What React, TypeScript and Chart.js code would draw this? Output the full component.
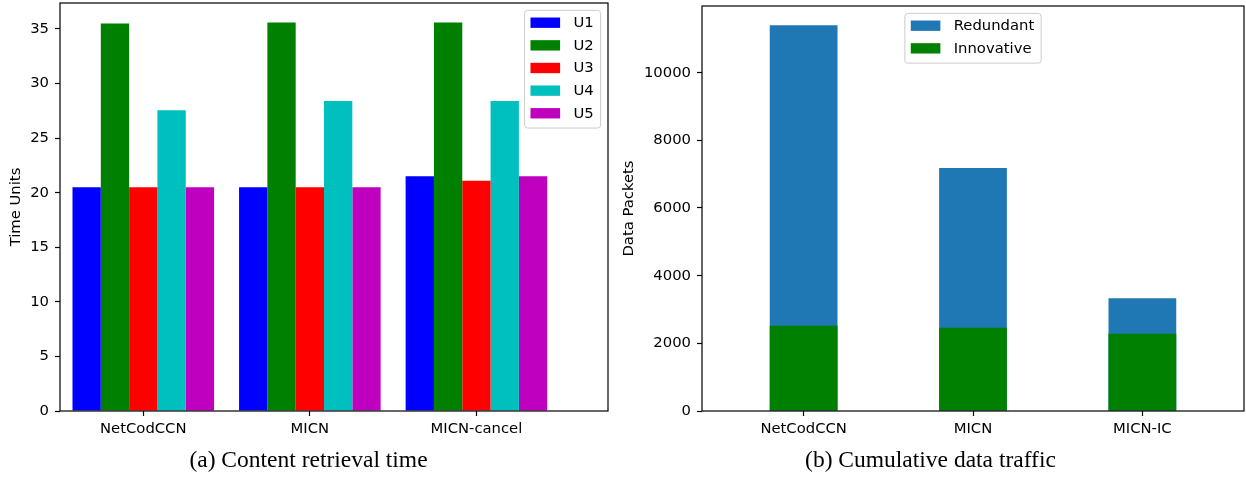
import React, { useEffect, useRef } from 'react';
import { Chart, registerables } from 'chart.js';

Chart.register(...registerables);
Chart.defaults.font.family = '"DejaVu Sans", sans-serif';
Chart.defaults.color = '#000';

// ---------- Data: (a) Content retrieval time ----------
const categoriesA = ['NetCodCCN', 'MICN', 'MICN-cancel'];
const seriesNamesA = ['U1', 'U2', 'U3', 'U4', 'U5'];
const u1 = [20.5, 20.5, 21.5];
const u2 = [35.5, 35.6, 35.6];
const u3 = [20.5, 20.5, 21.1];
const u4 = [27.55, 28.4, 28.4];
const u5 = [20.5, 20.5, 21.5];
const seriesValuesA = [u1, u2, u3, u4, u5];
const seriesColorsA = ['#0000ff', '#008000', '#ff0000', '#00bfbf', '#bf00bf'];
const yTicksA = [0, 5, 10, 15, 20, 25, 30, 35];

// ---------- Data: (b) Cumulative data traffic ----------
const categoriesB = ['NetCodCCN', 'MICN', 'MICN-IC'];
const redundantTotal = [11400, 7180, 3335];
const innovative = [2520, 2460, 2285];
const seriesColorsB = ['#1f77b4', '#008000'];
const yTicksB = [0, 2000, 4000, 6000, 8000, 10000];

const FS = 14.8;

const framePlugin = {
  id: 'frame',
  afterDatasetsDraw(chart: any) {
    const { ctx, chartArea: a } = chart;
    ctx.save();
    ctx.strokeStyle = '#000';
    ctx.lineWidth = 1.2;
    ctx.strokeRect(a.left, a.top, a.right - a.left, a.bottom - a.top);
    ctx.restore();
  },
};

const boxLegendPlugin = {
  id: 'boxLegend',
  afterDraw(chart: any, _args: any, opts: any) {
    if (!opts || !opts.display) return;
    const { ctx, chartArea: a } = chart;
    const fs = opts.fontSize;
    ctx.save();
    ctx.font = `${fs}px "DejaVu Sans"`;
    const items = chart.data.datasets.map((d: any) => ({ label: d.label, color: d.backgroundColor }));
    const textW = Math.max(...items.map((i: any) => ctx.measureText(i.label).width));
    const pad = 0.4 * fs;
    const handleW = 2 * fs;
    const handleH = 0.7 * fs;
    const gap = 0.8 * fs + 1.5;
    const step = 1.53 * fs;
    const axPad = 0.5 * fs;
    const w = pad * 2 + handleW + gap + textW + 1;
    const h = pad * 2 + items.length * 1.03 * fs + (items.length - 1) * 0.5 * fs;
    const x = opts.loc === 'upper right' ? a.right - axPad - w : (a.left + a.right) / 2 - w / 2;
    const y = a.top + axPad;
    ctx.beginPath();
    (ctx as any).roundRect(x, y, w, h, 3);
    ctx.fillStyle = 'rgba(255,255,255,0.8)';
    ctx.fill();
    ctx.strokeStyle = '#cccccc';
    ctx.lineWidth = 1;
    ctx.stroke();
    ctx.textBaseline = 'middle';
    ctx.textAlign = 'left';
    items.forEach((it: any, i: number) => {
      const cy = y + 12.3 + i * step;
      ctx.fillStyle = it.color;
      ctx.fillRect(x + pad, cy - handleH / 2, handleW, handleH);
      ctx.fillStyle = '#000';
      ctx.fillText(it.label, x + pad + handleW + gap, cy + 0.5);
    });
    ctx.restore();
  },
};

function tickGrid() {
  return {
    display: true,
    drawOnChartArea: false,
    drawTicks: true,
    tickLength: 5,
    tickWidth: 1.2,
    tickColor: '#000',
    offset: false,
  };
}

function fixX(h: number) {
  return (s: any) => {
    s.height = h;
    s.paddingLeft = 0;
    s.paddingRight = 0;
    s.paddingTop = 0;
    s.paddingBottom = 0;
  };
}

function fixY(w: number) {
  return (s: any) => {
    s.width = w;
    s.paddingLeft = 0;
    s.paddingRight = 0;
    s.paddingTop = 0;
    s.paddingBottom = 0;
  };
}

function ChartA() {
  const ref = useRef<HTMLCanvasElement>(null);
  useEffect(() => {
    const chart = new Chart(ref.current as HTMLCanvasElement, {
      type: 'bar',
      data: {
        datasets: seriesValuesA.map((vals, k) => ({
          label: seriesNamesA[k],
          data: vals.map((v, i) => ({ x: i, y: v })),
          backgroundColor: seriesColorsA[k],
          borderWidth: 0,
          categoryPercentage: 0.85,
          barPercentage: 1,
        })),
      } as any,
      options: {
        responsive: false,
        animation: false,
        events: [],
        layout: { padding: { left: 0, top: 3, right: 12, bottom: 0 } },
        plugins: {
          legend: { display: false },
          tooltip: { enabled: false },
          boxLegend: { display: true, loc: 'upper right', fontSize: FS },
        } as any,
        scales: {
          x: {
            type: 'linear',
            min: -0.5,
            max: 2.79,
            offset: false,
            grid: tickGrid(),
            border: { display: false },
            afterBuildTicks: (s: any) => {
              s.ticks = categoriesA.map((_, i) => ({ value: i }));
            },
            ticks: {
              callback: (v: any) => categoriesA[v as number] ?? '',
              padding: 4,
              maxRotation: 0,
              autoSkip: false,
              font: { size: FS },
            },
            afterFit: fixX(66),
          },
          y: {
            type: 'linear',
            min: 0,
            max: 37.38,
            grid: tickGrid(),
            border: { display: false },
            afterBuildTicks: (s: any) => {
              s.ticks = yTicksA.map((v) => ({ value: v }));
            },
            ticks: { padding: 6, font: { size: FS }, callback: (v: any) => String(v) },
            title: { display: true, text: 'Time Units', font: { size: FS }, padding: { top: 7, bottom: 0 } },
            afterFit: fixY(60),
          },
        } as any,
      },
      plugins: [framePlugin, boxLegendPlugin],
    });
    return () => chart.destroy();
  }, []);
  return (
    <canvas
      ref={ref}
      width={620}
      height={477}
      style={{ position: 'absolute', left: 0, top: 0, width: 620, height: 477 }}
    />
  );
}

function ChartB() {
  const ref = useRef<HTMLCanvasElement>(null);
  useEffect(() => {
    const chart = new Chart(ref.current as HTMLCanvasElement, {
      type: 'bar',
      data: {
        datasets: [
          {
            label: 'Redundant',
            data: redundantTotal.map((v, i) => ({ x: i, y: v })),
            backgroundColor: seriesColorsB[0],
            borderWidth: 0,
            categoryPercentage: 0.4,
            barPercentage: 1,
            grouped: false,
            order: 2,
          },
          {
            label: 'Innovative',
            data: innovative.map((v, i) => ({ x: i, y: v })),
            backgroundColor: seriesColorsB[1],
            borderWidth: 0,
            categoryPercentage: 0.4,
            barPercentage: 1,
            grouped: false,
            order: 1,
          },
        ],
      } as any,
      options: {
        responsive: false,
        animation: false,
        events: [],
        layout: { padding: { left: 0, top: 6, right: 2, bottom: 0 } },
        plugins: {
          legend: { display: false },
          tooltip: { enabled: false },
          boxLegend: { display: true, loc: 'upper center', fontSize: FS },
        } as any,
        scales: {
          x: {
            type: 'linear',
            min: -0.6,
            max: 2.6,
            offset: false,
            grid: tickGrid(),
            border: { display: false },
            afterBuildTicks: (s: any) => {
              s.ticks = categoriesB.map((_, i) => ({ value: i }));
            },
            ticks: {
              callback: (v: any) => categoriesB[v as number] ?? '',
              padding: 4,
              maxRotation: 0,
              autoSkip: false,
              font: { size: FS },
            },
            afterFit: fixX(66),
          },
          y: {
            type: 'linear',
            min: 0,
            max: 11970,
            grid: tickGrid(),
            border: { display: false },
            afterBuildTicks: (s: any) => {
              s.ticks = yTicksB.map((v) => ({ value: v }));
            },
            ticks: { padding: 6, font: { size: FS }, callback: (v: any) => String(v) },
            title: { display: true, text: 'Data Packets', font: { size: FS }, padding: { top: 0, bottom: 0 } },
            afterFit: fixY(82),
          },
        } as any,
      },
      plugins: [framePlugin, boxLegendPlugin],
    });
    return () => chart.destroy();
  }, []);
  return (
    <canvas
      ref={ref}
      width={626}
      height={477}
      style={{ position: 'absolute', left: 620, top: 0, width: 626, height: 477 }}
    />
  );
}

const captionStyle: React.CSSProperties = {
  position: 'absolute',
  top: 446,
  textAlign: 'center',
  fontFamily: '"Liberation Serif", "Times New Roman", serif',
  fontSize: 23.5,
  lineHeight: '26px',
  color: '#000',
  whiteSpace: 'nowrap',
};

export default function App() {
  return (
    <div
      style={{
        position: 'absolute',
        left: 0,
        top: 0,
        width: 1246,
        height: 477,
        background: '#fff',
        overflow: 'hidden',
      }}
    >
      <ChartA />
      <ChartB />
      <div style={{ ...captionStyle, left: 0, width: 617 }}>(a) Content retrieval time</div>
      <div style={{ ...captionStyle, left: 620, width: 621 }}>(b) Cumulative data traffic</div>
    </div>
  );
}
